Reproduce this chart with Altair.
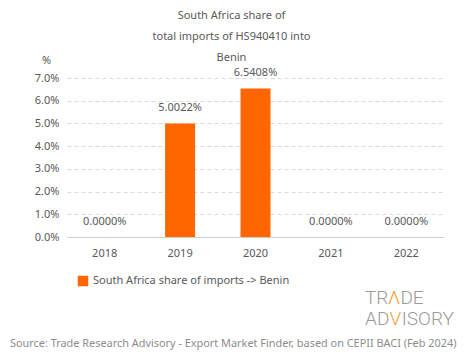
import altair as alt
import pandas as pd

years = ["2018", "2019", "2020", "2021", "2022"]
shares = [0.0, 5.0022, 6.5408, 0.0, 0.0]
labels = ["0.0000%", "5.0022%", "6.5408%", "0.0000%", "0.0000%"]
series_name = "South Africa share of imports -> Benin"
title_lines = ["South Africa share of", "total imports of HS940410 into", "Benin"]
source_text = "Source: Trade Research Advisory - Export Market Finder, based on CEPII BACI (Feb 2024)"
y_ticks = [0, 1, 2, 3, 4, 5, 6, 7]

df = pd.DataFrame({"year": years, "share": shares, "label": labels, "series": series_name})

FONT = "Noto Sans"
TXT = "#595959"
ORANGE = "#FF6600"
LOGO_GRAY = "#9a9a9a"
LOGO_ORANGE = "#F0A030"
W, H = 377, 159

base = alt.Chart(df)

yaxis = alt.Axis(values=y_ticks, labelOverlap=False,
                 labelExpr="format(datum.value, '.1f') + '%'",
                 labelColor=TXT, labelFontSize=11, labelFont=FONT,
                 gridDash=[4, 3], gridColor="#d9d9d9", domain=False, ticks=False,
                 labelPadding=8,
                 titleAngle=0, titleX=-21, titleY=-13, titleFontWeight="normal",
                 titleColor=TXT, titleFontSize=11, titleFont=FONT)
yscale = alt.Scale(domain=[0, 7], nice=False)

bars = base.mark_bar(size=30).encode(
    x=alt.X("year:N", sort=years, title=None,
            scale=alt.Scale(paddingInner=0.6, paddingOuter=0.3),
            axis=alt.Axis(labelAngle=0, labelColor=TXT, labelFontSize=11, labelFont=FONT,
                          domainColor="#cccccc", ticks=False, labelPadding=10)),
    y=alt.Y("share:Q", title="%", scale=yscale, axis=yaxis),
    color=alt.Color("series:N", scale=alt.Scale(range=[ORANGE]),
                    legend=alt.Legend(title=None, orient="none", legendX=10, legendY=197,
                                      symbolType="square", symbolSize=110,
                                      labelColor=TXT, labelFontSize=11, labelFont=FONT,
                                      labelLimit=400)),
)

text = base.mark_text(dy=-15, baseline="middle", color=TXT, fontSize=11, font=FONT).encode(
    x=alt.X("year:N", sort=years), y=alt.Y("share:Q", title="%", scale=yscale, axis=yaxis),
    text="label:N")

src = alt.Chart(pd.DataFrame({"t": [source_text]})).mark_text(
    align="left", baseline="middle", color="#8c8c8c", fontSize=10.9, font=FONT
).encode(x=alt.value(-57), y=alt.value(266), text="t:N")


def logo_piece(s, x, y, color):
    return alt.Chart(pd.DataFrame({"t": [s]})).mark_text(
        align="left", baseline="middle", color=color, fontSize=19,
        font="Roboto", fontWeight=300
    ).encode(x=alt.value(x), y=alt.value(y), text="t:N")


LX = 298
logo = [
    logo_piece("TR", LX, 220, LOGO_GRAY),
    logo_piece("Λ", LX + 23, 220, LOGO_ORANGE),
    logo_piece("DE", LX + 35.4, 220, LOGO_GRAY),
    logo_piece("AD", LX, 241, LOGO_GRAY),
    logo_piece("V", LX + 24.6, 241, LOGO_ORANGE),
    logo_piece("ISORY", LX + 36.7, 241, LOGO_GRAY),
]

chart = alt.layer(bars, text, src, *logo).properties(
    width=W, height=H,
    autosize=alt.AutoSizeParams(type="none"),
    padding={"left": 59, "top": 70, "right": 13, "bottom": 114},
    title=alt.TitleParams(title_lines, fontSize=11, font=FONT, color=TXT, fontWeight="normal",
                          lineHeight=21, anchor="middle", dx=-24, offset=-9),
).configure_view(stroke=None).configure_axisY(gridDash=[4, 3], gridColor="#d9d9d9")

chart.save("out.html", embed_options={"renderer": "svg", "actions": False})
